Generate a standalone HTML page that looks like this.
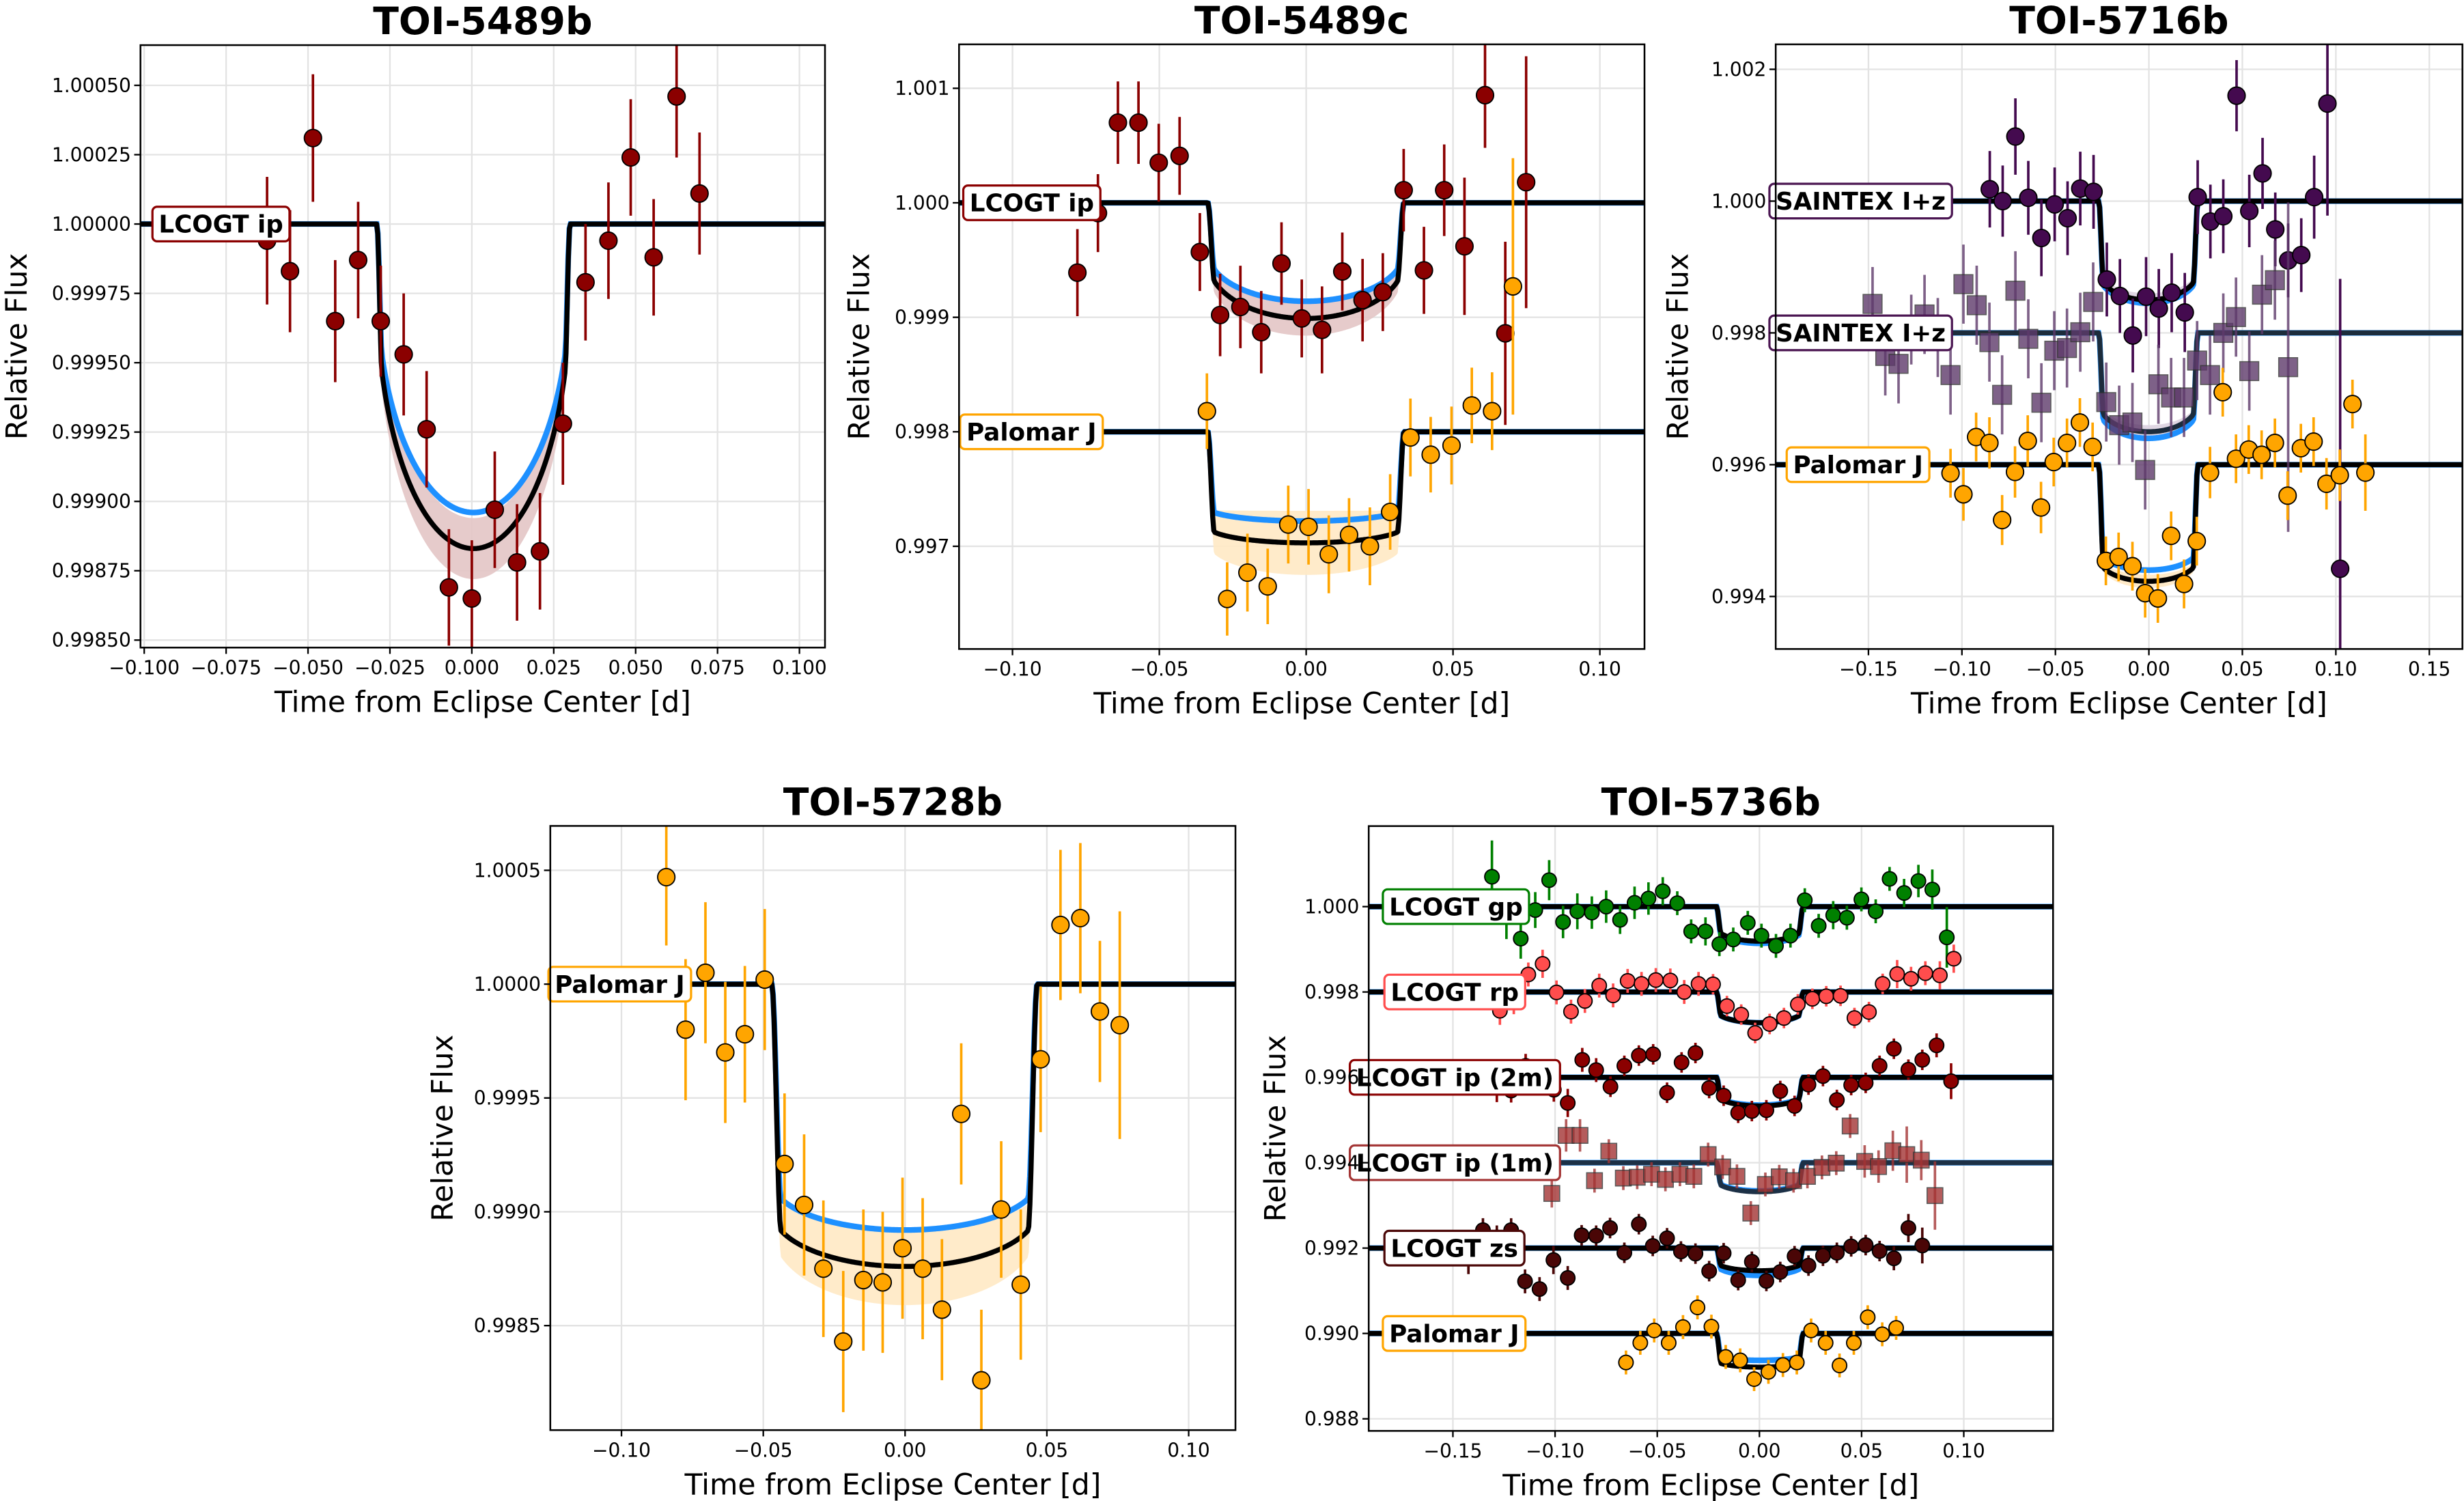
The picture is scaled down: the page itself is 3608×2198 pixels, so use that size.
<!DOCTYPE html>
<html><head><meta charset="utf-8"><style>
html,body{margin:0;padding:0;background:#fff;}
svg{display:block;font-family:"DejaVu Sans","Liberation Sans",sans-serif;}
</style></head><body>
<svg id="fig" xmlns="http://www.w3.org/2000/svg" width="3608" height="2198" viewBox="0 0 1568 955">
<rect x="0" y="0" width="1568" height="955" fill="#fff"/>
</svg>
<script>
// ---------- TOI-5489b ----------
const p1_ip_t=[-0.0625,-0.0555,-0.0485,-0.0417,-0.0347,-0.0278,-0.0208,-0.0138,-0.0070,0.0,0.0070,0.0138,0.0208,0.0278,0.0347,0.0417,0.0485,0.0555,0.0625,0.0695];
const p1_ip_f=[0.99994,0.99983,1.00031,0.99965,0.99987,0.99965,0.99953,0.99926,0.99869,0.99865,0.99897,0.99878,0.99882,0.99928,0.99979,0.99994,1.00024,0.99988,1.00046,1.00011];
const p1_ip_e=[0.00023,0.00022,0.00023,0.00022,0.00021,0.0002,0.00022,0.00021,0.00021,0.00021,0.00021,0.00021,0.00021,0.00022,0.00021,0.00021,0.00021,0.00021,0.00022,0.00022];
// ---------- TOI-5489c ----------
const p2_ip_t=[-0.0779,-0.0709,-0.0641,-0.0571,-0.0502,-0.0431,-0.0362,-0.0293,-0.0224,-0.0153,-0.0084,-0.0015,0.0054,0.0123,0.0192,0.0261,0.0332,0.0401,0.0470,0.0539,0.0609,0.0678,0.0749];
const p2_ip_f=[0.99939,0.99991,1.00070,1.00070,1.00035,1.00041,0.99957,0.99902,0.99909,0.99887,0.99947,0.99899,0.99889,0.99940,0.99915,0.99922,1.00011,0.99941,1.00011,0.99962,1.00094,0.99886,1.00018];
const p2_ip_e=[0.00038,0.00034,0.00036,0.00036,0.00034,0.00034,0.00034,0.00036,0.00036,0.00036,0.00036,0.00034,0.00038,0.00034,0.00036,0.00034,0.00036,0.00038,0.0004,0.0006,0.00046,0.0008,0.0011];
const p2_pj_t=[-0.0338,-0.0269,-0.0200,-0.0131,-0.0061,0.0008,0.0077,0.0146,0.0217,0.0286,0.0355,0.0424,0.0495,0.0564,0.0633,0.0704];
const p2_pj_f=[0.99818,0.99654,0.99677,0.99665,0.99719,0.99717,0.99693,0.99710,0.99700,0.99730,0.99795,0.99780,0.99788,0.99823,0.99818,0.99927];
const p2_pj_e=[0.00033,0.00032,0.00034,0.00033,0.00034,0.00033,0.00034,0.00032,0.00034,0.00033,0.00034,0.00033,0.00034,0.00033,0.00034,0.00112];
// ---------- TOI-5716b ----------
const p3_sa_t=[-0.0851,-0.0782,-0.0714,-0.0645,-0.0575,-0.0504,-0.0435,-0.0367,-0.0296,-0.0225,-0.0155,-0.0086,-0.0015,0.0053,0.0122,0.0192,0.0261,0.0329,0.0398,0.0469,0.0537,0.0608,0.0676,0.0745,0.0815,0.0884,0.0955,0.1023];
const p3_sa_f=[1.00018,1.00000,1.00098,1.00005,0.99944,0.99995,0.99974,1.00019,1.00014,0.99881,0.99856,0.99796,0.99855,0.99837,0.99861,0.99831,1.00006,0.99969,0.99977,1.00160,0.99985,1.00042,0.99957,0.99910,0.99918,1.00006,1.00148,0.99442];
const p3_sa_e=[0.00058,0.00054,0.00058,0.00056,0.00058,0.00056,0.00056,0.00056,0.00056,0.00056,0.00056,0.00056,0.0006,0.0006,0.0006,0.0006,0.00056,0.00056,0.00056,0.00054,0.00055,0.00054,0.00056,0.00056,0.00056,0.00063,0.0017,0.0044];
const p3_sb_t=[-0.1478,-0.1410,-0.1339,-0.1271,-0.1200,-0.1129,-0.1061,-0.0992,-0.0921,-0.0853,-0.0785,-0.0714,-0.0645,-0.0575,-0.0506,-0.0438,-0.0367,-0.0298,-0.0228,-0.0159,-0.0088,-0.0020,0.0051,0.0119,0.0188,0.0258,0.0327,0.0398,0.0466,0.0537,0.0605,0.0674,0.0745];
const p3_sb_f=[0.99844,0.99765,0.99753,0.99805,0.99828,0.99793,0.99736,0.99874,0.99842,0.99786,0.99706,0.99864,0.99791,0.99694,0.99773,0.99777,0.99801,0.99847,0.99695,0.99660,0.99664,0.99592,0.99722,0.99702,0.99702,0.99758,0.99736,0.99800,0.99824,0.99742,0.99858,0.99880,0.99748];
const p3_sb_e=[0.00056,0.0006,0.0006,0.00053,0.0006,0.0006,0.0006,0.0006,0.0006,0.0006,0.0006,0.0006,0.0006,0.0006,0.0006,0.0006,0.0006,0.0006,0.0006,0.0006,0.0006,0.0006,0.0006,0.0006,0.0006,0.0006,0.0006,0.0006,0.0006,0.0006,0.0006,0.0006,0.0025];
const p3_pj_t=[-0.1061,-0.0992,-0.0924,-0.0853,-0.0785,-0.0716,-0.0648,-0.0577,-0.0509,-0.0438,-0.0369,-0.0301,-0.0230,-0.0162,-0.0088,-0.0020,0.0048,0.0119,0.0188,0.0256,0.0327,0.0395,0.0466,0.0534,0.0603,0.0674,0.0742,0.0813,0.0881,0.0950,0.1021,0.1089,0.1158];
const p3_pj_f=[0.99587,0.99555,0.99642,0.99633,0.99516,0.99589,0.99636,0.99535,0.99604,0.99633,0.99664,0.99627,0.99454,0.99460,0.99446,0.99405,0.99397,0.99492,0.99419,0.99484,0.99588,0.99710,0.99609,0.99623,0.99615,0.99633,0.99553,0.99625,0.99635,0.99571,0.99584,0.99692,0.99588];
const p3_pj_e=[0.00037,0.0004,0.00037,0.00039,0.00038,0.00039,0.00039,0.00039,0.00037,0.00037,0.00037,0.00037,0.00037,0.00037,0.00037,0.00037,0.00037,0.00037,0.00037,0.00037,0.00039,0.00037,0.00037,0.00037,0.00037,0.00037,0.00037,0.00037,0.00037,0.00039,0.00039,0.00037,0.00058];
// ---------- TOI-5728b ----------
const p4_pj_t=[-0.0842,-0.0774,-0.0704,-0.0634,-0.0565,-0.0495,-0.0425,-0.0356,-0.0288,-0.0218,-0.0147,-0.0079,-0.0009,0.0062,0.0130,0.0198,0.0269,0.0339,0.0408,0.0478,0.0548,0.0618,0.0687,0.0757];
const p4_pj_f=[1.00047,0.99980,1.00005,0.99970,0.99978,1.00002,0.99921,0.99903,0.99875,0.99843,0.99870,0.99869,0.99884,0.99875,0.99857,0.99943,0.99826,0.99901,0.99868,0.99967,1.00026,1.00029,0.99988,0.99982];
const p4_pj_e=[0.0003,0.00031,0.00031,0.00031,0.0003,0.00031,0.00031,0.00031,0.0003,0.00031,0.00031,0.00031,0.00031,0.00031,0.00031,0.00031,0.00031,0.0003,0.00033,0.00032,0.00033,0.00033,0.00031,0.0005];
// ---------- TOI-5736b ----------
const p5_gp_t=[-0.1309,-0.1238,-0.1168,-0.1097,-0.1029,-0.0961,-0.0891,-0.0820,-0.0750,-0.0682,-0.0611,-0.0543,-0.0473,-0.0402,-0.0334,-0.0264,-0.0196,-0.0128,-0.0057,0.0010,0.0081,0.0152,0.0222,0.0290,0.0361,0.0428,0.0499,0.0569,0.0637,0.0708,0.0778,0.0846,0.0917];
const p5_gp_f=[1.00070,0.99981,0.99925,0.99992,1.00062,0.99964,0.99989,0.99986,1.00000,0.99969,1.00009,1.00019,1.00036,1.00008,0.99942,0.99942,0.99912,0.99923,0.99962,0.99932,0.99908,0.99932,1.00015,0.99955,0.99980,0.99974,1.00017,0.99989,1.00065,1.00032,1.00060,1.00040,0.99928];
const p5_gp_e=[0.00085,0.00057,0.00047,0.00042,0.00047,0.00038,0.00042,0.00038,0.00038,0.00033,0.00038,0.00038,0.00033,0.00028,0.00028,0.00033,0.00028,0.00028,0.00028,0.00028,0.00028,0.00028,0.00028,0.00028,0.00033,0.00028,0.00028,0.00028,0.00028,0.00033,0.00038,0.00047,0.00071];
const p5_rp_t=[-0.1270,-0.1202,-0.1131,-0.1061,-0.0993,-0.0922,-0.0854,-0.0784,-0.0716,-0.0645,-0.0577,-0.0507,-0.0436,-0.0368,-0.0298,-0.0227,-0.0159,-0.0089,-0.0021,0.0050,0.0120,0.0188,0.0259,0.0327,0.0397,0.0465,0.0536,0.0603,0.0674,0.0742,0.0812,0.0883,0.0951];
const p5_rp_f=[0.99756,0.99781,0.99841,0.99866,0.99799,0.99754,0.99779,0.99815,0.99792,0.99826,0.99819,0.99828,0.99827,0.99800,0.99819,0.99818,0.99767,0.99747,0.99704,0.99725,0.99739,0.99771,0.99784,0.99790,0.99791,0.99739,0.99753,0.99819,0.99842,0.99831,0.99844,0.99839,0.99878];
const p5_rp_e=[0.00033,0.00033,0.00028,0.00033,0.00028,0.00028,0.00028,0.00028,0.00028,0.00028,0.00028,0.00028,0.00028,0.00028,0.00028,0.00024,0.00024,0.00024,0.00024,0.00024,0.00024,0.00024,0.00024,0.00024,0.00024,0.00024,0.00024,0.00024,0.00033,0.00028,0.00028,0.00033,0.00033];
const p5_i2_t=[-0.1285,-0.1215,-0.1144,-0.1074,-0.1006,-0.0938,-0.0867,-0.0799,-0.0729,-0.0661,-0.0590,-0.0520,-0.0452,-0.0381,-0.0313,-0.0246,-0.0175,-0.0104,-0.0037,0.0034,0.0102,0.0172,0.0240,0.0311,0.0379,0.0449,0.0520,0.0588,0.0658,0.0729,0.0797,0.0867,0.0938];
const p5_i2_f=[0.99580,0.99569,0.99627,0.99585,0.99571,0.99540,0.99641,0.99617,0.99578,0.99627,0.99651,0.99654,0.99564,0.99635,0.99657,0.99575,0.99557,0.99517,0.99521,0.99523,0.99568,0.99533,0.99583,0.99603,0.99547,0.99582,0.99587,0.99627,0.99667,0.99618,0.99641,0.99675,0.99591];
const p5_i2_e=[0.00038,0.00028,0.00028,0.00028,0.00028,0.00033,0.00028,0.00028,0.00024,0.00024,0.00024,0.00024,0.00024,0.00024,0.00024,0.00024,0.00024,0.00024,0.00024,0.00024,0.00024,0.00024,0.00024,0.00024,0.00024,0.00024,0.00024,0.00024,0.00024,0.00024,0.00024,0.00028,0.00042];
const p5_i1_t=[-0.1288,-0.1016,-0.0946,-0.0878,-0.0807,-0.0737,-0.0666,-0.0598,-0.0528,-0.0460,-0.0389,-0.0321,-0.0251,-0.0180,-0.0110,-0.0042,0.0029,0.0097,0.0167,0.0235,0.0306,0.0376,0.0444,0.0515,0.0583,0.0653,0.0721,0.0792,0.0859];
const p5_i1_f=[0.99406,0.99328,0.99464,0.99464,0.99358,0.99427,0.99364,0.99366,0.99373,0.99361,0.99373,0.99368,0.99419,0.99390,0.99368,0.99282,0.99349,0.99367,0.99358,0.99368,0.99389,0.99399,0.99486,0.99403,0.99391,0.99428,0.99419,0.99406,0.99323];
const p5_i1_e=[0.0003,0.00033,0.00038,0.00038,0.00028,0.00028,0.00028,0.00028,0.00028,0.00028,0.00028,0.00028,0.00028,0.00028,0.00028,0.00028,0.00028,0.00028,0.00028,0.00028,0.00028,0.00028,0.00028,0.00038,0.00038,0.00047,0.00066,0.00047,0.0008];
const p5_zs_t=[-0.1424,-0.1353,-0.1285,-0.1215,-0.1147,-0.1076,-0.1008,-0.0938,-0.0870,-0.0799,-0.0731,-0.0661,-0.0590,-0.0522,-0.0452,-0.0384,-0.0313,-0.0246,-0.0175,-0.0104,-0.0037,0.0034,0.0102,0.0172,0.0240,0.0311,0.0379,0.0449,0.0520,0.0588,0.0658,0.0729,0.0797];
const p5_zs_f=[0.99177,0.99242,0.99225,0.99242,0.99122,0.99104,0.99172,0.99130,0.99230,0.99229,0.99247,0.99189,0.99256,0.99205,0.99223,0.99192,0.99187,0.99146,0.99188,0.99125,0.99168,0.99123,0.99144,0.99181,0.99159,0.99182,0.99189,0.99204,0.99207,0.99193,0.99176,0.99247,0.99206];
const p5_zs_e=[0.00038,0.00028,0.00028,0.00028,0.00028,0.00028,0.00033,0.00028,0.00024,0.00024,0.00024,0.00024,0.00024,0.00024,0.00024,0.00024,0.00024,0.00024,0.00024,0.00024,0.00024,0.00024,0.00024,0.00024,0.00024,0.00024,0.00024,0.00024,0.00024,0.00024,0.00028,0.00033,0.00042];
const p5_pj_t=[-0.0653,-0.0583,-0.0515,-0.0444,-0.0374,-0.0303,-0.0235,-0.0165,-0.0094,-0.0026,0.0044,0.0115,0.0183,0.0253,0.0324,0.0392,0.0462,0.0530,0.0601,0.0669];
const p5_pj_f=[0.98932,0.98978,0.99007,0.98978,0.99015,0.99061,0.99016,0.98945,0.98937,0.98893,0.98910,0.98926,0.98932,0.99007,0.98978,0.98925,0.98978,0.99038,0.98998,0.99013];
const p5_pj_e=[0.00028,0.00028,0.00028,0.00028,0.00028,0.00028,0.00028,0.00028,0.00028,0.00028,0.00028,0.00028,0.00028,0.00028,0.00028,0.00028,0.00028,0.00028,0.00028,0.00028];

// Model params per series: [baseline, t0, halfDur, ingress, depthBlack, depthBlue, limbU, shadeHalf]
const p1_ip_model=[1.0,0.0005,0.0295,0.0015,0.00117,0.00104,0.8,0.00011];
const p2_ip_model=[1.0,-0.0001,0.0334,0.0022,0.00101,0.00086,0.5,0.00015];
const p2_pj_model=[0.998,-0.0001,0.0334,0.0022,0.00097,0.00078,0.15,0.00028];
const p3_sa_model=[1.0,-0.0003,0.0265,0.0025,0.0015,0.00155,0.3,0.0001];
const p3_sb_model=[0.998,-0.0003,0.0265,0.0025,0.0015,0.0016,0.3,0.0001];
const p3_pj_model=[0.996,-0.0003,0.0265,0.0025,0.00177,0.0016,0.2,0.0001];
const p4_pj_model=[1.0,-0.0002,0.0468,0.0032,0.00124,0.00108,0.2,0.00017];
const p5_gp_model=[1.0,0.0002,0.0212,0.0022,0.00081,0.00086,0.4,0.00006];
const p5_rp_model=[0.998,0.0002,0.0212,0.0022,0.00072,0.00072,0.4,0.00006];
const p5_i2_model=[0.996,0.0002,0.0212,0.0022,0.00067,0.00065,0.4,0.00006];
const p5_i1_model=[0.994,0.0002,0.0212,0.0022,0.00068,0.00066,0.4,0.00006];
const p5_zs_model=[0.992,0.0002,0.0212,0.0022,0.00053,0.00064,0.4,0.00006];
const p5_pj_model=[0.990,0.0002,0.0212,0.0022,0.00079,0.00063,0.2,0.00006];

const p1_xticks=[-0.1,-0.075,-0.05,-0.025,0,0.025,0.05,0.075,0.1];
const p1_yticks=[0.9985,0.99875,0.999,0.99925,0.9995,0.99975,1.0,1.00025,1.0005];
const p2_xticks=[-0.1,-0.05,0,0.05,0.1];
const p2_yticks=[0.997,0.998,0.999,1.0,1.001];
const p3_xticks=[-0.15,-0.1,-0.05,0,0.05,0.1,0.15];
const p3_yticks=[0.994,0.996,0.998,1.0,1.002];
const p4_xticks=[-0.1,-0.05,0,0.05,0.1];
const p4_yticks=[0.9985,0.999,0.9995,1.0,1.0005];
const p5_xticks=[-0.15,-0.1,-0.05,0,0.05,0.1];
const p5_yticks=[0.988,0.990,0.992,0.994,0.996,0.998,1.0];

const NS="http://www.w3.org/2000/svg";
const svg=document.getElementById('fig');
function mk(tag,attrs,parent){const e=document.createElementNS(NS,tag);for(const k in attrs)e.setAttribute(k,attrs[k]);(parent||svg).appendChild(e);return e;}
function fmt(v,d){const s=Math.abs(v).toFixed(d);return (v<-1e-12?'\u2212':'')+s;}

function modelDepth(t,m,which){
  const dt=Math.abs(t-m[1]);const T=m[2];if(dt>=T)return 0;
  const x=dt/T;const mu=Math.sqrt(1-x*x);const ld=1-m[6]*(1-mu);
  let r=Math.min(1,(T-dt)/m[3]);r=r*r*(3-2*r);
  return (which==='blue'?m[5]:m[4])*ld*r;
}
function shadeW(t,m){const dt=Math.abs(t-m[1]);const T=m[2];if(dt>=T)return 0;let r=Math.min(1,(T-dt)/m[3]);r=r*r*(3-2*r);const x=dt/T;const mu=Math.sqrt(1-x*x);return m[7]*r*(0.5+0.5*mu);}

const panels=[
 {id:'toi-5489b',title:'TOI-5489b',box:[89.4,28.6,525,412],xlim:[-0.10114,0.1078],ylim:[0.998473,1.000645],xt:p1_xticks,yt:p1_yticks,xd:3,yd:5,ylx:11,
  series:[{name:'LCOGT ip',t:p1_ip_t,f:p1_ip_f,e:p1_ip_e,m:p1_ip_model,col:'#8b0000',shade:'#e3c5c5',line:'#000',mk:'o',r:5.5,lab:[97]}]},
 {id:'toi-5489c',title:'TOI-5489c',box:[610.3,28.1,1046.5,412.9],xlim:[-0.1182,0.1152],ylim:[0.996103,1.001384],xt:p2_xticks,yt:p2_yticks,xd:2,yd:3,ylx:547,
  series:[{name:'LCOGT ip',t:p2_ip_t,f:p2_ip_f,e:p2_ip_e,m:p2_ip_model,col:'#8b0000',shade:'#e3c5c5',line:'#000',mk:'o',r:5.5,lab:[613]},
          {name:'Palomar J',t:p2_pj_t,f:p2_pj_f,e:p2_pj_e,m:p2_pj_model,col:'#ffa500',shade:'#ffe9c4',line:'#000',mk:'o',r:5.5,lab:[611]}]},
 {id:'toi-5716b',title:'TOI-5716b',box:[1130,28.1,1567,412.9],xlim:[-0.1996,0.1677],ylim:[0.993203,1.002379],xt:p3_xticks,yt:p3_yticks,xd:2,yd:3,ylx:1068,
  series:[{name:'SAINTEX I+z',t:p3_sa_t,f:p3_sa_f,e:p3_sa_e,m:p3_sa_model,col:'#440a4f',shade:'#ddd3e0',line:'#000',mk:'o',r:5.5,lab:[1126],lc:'#4b1652'},
          {name:'SAINTEX I+z',t:p3_sb_t,f:p3_sb_f,e:p3_sb_e,m:p3_sb_model,col:'#5e3a6b',shade:'#ddd3e0',line:'#1c2c3c',mk:'s',r:6,op:0.8,lab:[1126],lc:'#4b1652'},
          {name:'Palomar J',t:p3_pj_t,f:p3_pj_f,e:p3_pj_e,m:p3_pj_model,col:'#ffa500',shade:'#ffe9c4',line:'#000',mk:'o',r:5.5,lab:[1137]}]},
 {id:'toi-5728b',title:'TOI-5728b',box:[350.2,525.5,786.2,910],xlim:[-0.1251,0.1165],ylim:[0.998041,1.000695],xt:p4_xticks,yt:p4_yticks,xd:2,yd:4,ylx:282,
  series:[{name:'Palomar J',t:p4_pj_t,f:p4_pj_f,e:p4_pj_e,m:p4_pj_model,col:'#ffa500',shade:'#ffe9c4',line:'#000',mk:'o',r:5.5,lab:[349]}]},
 {id:'toi-5736b',title:'TOI-5736b',box:[871,525.6,1306.5,910.5],xlim:[-0.1912,0.1437],ylim:[0.987717,1.001887],xt:p5_xticks,yt:p5_yticks,xd:2,yd:3,ylx:812,
  series:[{name:'LCOGT gp',t:p5_gp_t,f:p5_gp_f,e:p5_gp_e,m:p5_gp_model,col:'#008000',shade:'#c8e0c8',line:'#000',mk:'o',r:4.6,lab:[880]},
          {name:'LCOGT rp',t:p5_rp_t,f:p5_rp_f,e:p5_rp_e,m:p5_rp_model,col:'#ff4d4d',shade:'#ffd5d5',line:'#000',mk:'o',r:4.6,lab:[881]},
          {name:'LCOGT ip (2m)',t:p5_i2_t,f:p5_i2_f,e:p5_i2_e,m:p5_i2_model,col:'#8b0000',shade:'#e3c5c5',line:'#000',mk:'o',r:4.6,lab:[859]},
          {name:'LCOGT ip (1m)',t:p5_i1_t,f:p5_i1_f,e:p5_i1_e,m:p5_i1_model,col:'#a33434',shade:'#e3c5c5',line:'#1c3046',mk:'s',r:5,op:0.8,lab:[859]},
          {name:'LCOGT zs',t:p5_zs_t,f:p5_zs_f,e:p5_zs_e,m:p5_zs_model,col:'#4a0606',shade:'#e0cccc',line:'#000',mk:'o',r:4.6,lab:[881]},
          {name:'Palomar J',t:p5_pj_t,f:p5_pj_f,e:p5_pj_e,m:p5_pj_model,col:'#ffa500',shade:'#ffe9c4',line:'#000',mk:'o',r:4.6,lab:[880]}]}
];

panels.forEach(function(P,pi){
  const [L,Tp,R,B]=P.box;
  const sx=v=>L+(v-P.xlim[0])/(P.xlim[1]-P.xlim[0])*(R-L);
  const sy=v=>B-(v-P.ylim[0])/(P.ylim[1]-P.ylim[0])*(B-Tp);
  const g=mk('g',{});
  
  
  const cp=mk('clipPath',{id:'cp'+pi},g);mk('rect',{x:L,y:Tp,width:R-L,height:B-Tp},cp);
  P.xt.forEach(v=>{const l=mk('line',{x1:sx(v),x2:sx(v),y1:Tp,y2:B,stroke:'#e3e3e3','stroke-width':1},g);
    });
  P.yt.forEach(v=>{const l=mk('line',{x1:L,x2:R,y1:sy(v),y2:sy(v),stroke:'#e3e3e3','stroke-width':1},g);
    });
  const cg=mk('g',{'clip-path':'url(#cp'+pi+')'},g);
  P.series.forEach(S=>{
    const N=600;let up=[],dn=[],blk=[],blu=[];
    for(let i=0;i<=N;i++){const t=P.xlim[0]+(P.xlim[1]-P.xlim[0])*i/N;
      const db=modelDepth(t,S.m,'black'),dl=modelDepth(t,S.m,'blue'),w=shadeW(t,S.m);
      const fb=S.m[0]-db;
      up.push(sx(t).toFixed(2)+','+sy(fb+w).toFixed(2));dn.unshift(sx(t).toFixed(2)+','+sy(fb-w).toFixed(2));
      blk.push(sx(t).toFixed(2)+','+sy(fb).toFixed(2));blu.push(sx(t).toFixed(2)+','+sy(S.m[0]-dl).toFixed(2));}
    const sh=mk('polygon',{points:up.concat(dn).join(' '),fill:S.shade,opacity:0.9},cg);
    
    const bl=mk('polyline',{points:blu.join(' '),fill:'none',stroke:'#1e90ff','stroke-width':3.6},cg);
    
    S._blk=blk;
  });
  P.series.forEach(S=>{
    const k=mk('polyline',{points:S._blk.join(' '),fill:'none',stroke:S.line,'stroke-width':3.2,'stroke-linejoin':'round'},cg);
    
  });
  P.series.forEach(S=>{
    for(let i=0;i<S.t.length;i++){
      const x=sx(S.t[i]),y=sy(S.f[i]);
      const eb=mk('line',{x1:x,x2:x,y1:sy(S.f[i]+S.e[i]),y2:sy(S.f[i]-S.e[i]),stroke:S.col,'stroke-width':1.6,opacity:S.op||1},cg);
      
      let m;
      if(S.mk==='s'){m=mk('rect',{x:x-S.r,y:y-S.r,width:2*S.r,height:2*S.r,fill:S.col,stroke:'#333','stroke-width':0.7,opacity:S.op||1},cg);}
      else{m=mk('ellipse',{cx:x,cy:y,rx:S.r,ry:S.r,fill:S.col,stroke:'#000','stroke-width':0.8},cg);}
      
    }
  });
  P.series.forEach(S=>{
    const lx=S.lab[0],ly=sy(S.m[0]);
    const lg=mk('g',{},g);
    
    const rc=mk('rect',{x:lx,y:ly-11,width:50,height:22,rx:3,fill:'#fff',stroke:S.lc||S.col,'stroke-width':1.4},lg);
    const tx=mk('text',{x:lx+4,y:ly+5.5,'font-size':15.5,'font-weight':'bold',fill:'#000'},lg);
    tx.textContent=S.name;
    let w=S.name.length*9.6;try{w=tx.getComputedTextLength();}catch(e){}
    rc.setAttribute('width',w+8);
  });
  const fr=mk('rect',{x:L,y:Tp,width:R-L,height:B-Tp,fill:'none',stroke:'#000','stroke-width':1.1},g);
  
  P.xt.forEach(v=>{const x=sx(v);mk('line',{x1:x,x2:x,y1:B,y2:B+4,stroke:'#000','stroke-width':1},g);
    const t=mk('text',{x:x,y:B+17,'font-size':12.2,'text-anchor':'middle',fill:'#000'},g);t.textContent=fmt(v,P.xd);
    });
  P.yt.forEach(v=>{const y=sy(v);mk('line',{x1:L-4,x2:L,y1:y,y2:y,stroke:'#000','stroke-width':1},g);
    const t=mk('text',{x:L-6,y:y+4.3,'font-size':12.2,'text-anchor':'end',fill:'#000'},g);t.textContent=fmt(v,P.yd);
    });
  const ti=mk('text',{x:(L+R)/2,y:Tp-7,'font-size':24,'font-weight':'bold','text-anchor':'middle',fill:'#000'},g);ti.textContent=P.title;
  
  const xl=mk('text',{x:(L+R)/2,y:B+41,'font-size':18.5,'text-anchor':'middle',fill:'#000'},g);xl.textContent='Time from Eclipse Center [d]';
  
  const yc=(Tp+B)/2;
  const yl=mk('text',{x:P.ylx,y:yc,'font-size':18.5,'text-anchor':'middle',fill:'#000',transform:'rotate(-90 '+(P.ylx)+' '+yc+')',dy:6},g);yl.textContent='Relative Flux';
  
});
</script>
</body></html>
